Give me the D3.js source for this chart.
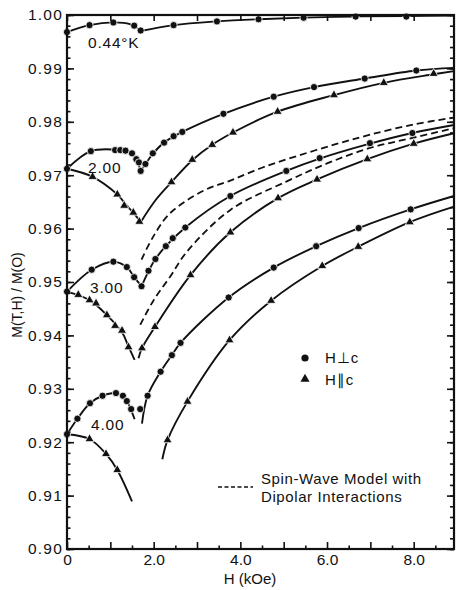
<!DOCTYPE html>
<html><head><meta charset="utf-8">
<script src="https://cdn.jsdelivr.net/npm/d3@7"></script>
<style>
body{margin:0;background:#fff}
svg text{font-family:"Liberation Sans",Arial,sans-serif;fill:#111}
</style>
</head><body><svg id="c" width="456" height="590"></svg>
<script>
// ---------- data (H in kOe, M(T,H)/M(0)) ----------
const tempLabels = ["0.44°K", "2.00", "3.00", "4.00"];
const xTickLabels = [0, 2, 4, 6, 8];
const yTickLabels = [0.90, 0.91, 0.92, 0.93, 0.94, 0.95, 0.96, 0.97, 0.98, 0.99, 1.00];

// measured points, H perpendicular c (circles)
const perp044 = [[0,0.9968],[0.52,0.9981],[1.07,0.9986],[1.55,0.9980],[1.70,0.9971],[2.46,0.9981],[3.46,0.9988],[4.42,0.9992],[5.46,0.9995],[6.66,0.9997],[7.83,0.9997]];
const perp200 = [[0,0.9712],[0.55,0.9745],[1.11,0.9747],[1.23,0.9747],[1.35,0.9746],[1.50,0.9741],[1.60,0.9730],[1.66,0.9724],[1.70,0.9708],[1.81,0.9721],[1.98,0.9741],[2.24,0.9761],[2.46,0.9773],[2.66,0.9781],[3.61,0.9815],[4.77,0.9847],[5.70,0.9865],[6.87,0.9881],[8.06,0.9896]];
const perp300 = [[0,0.9482],[0.57,0.9523],[1.07,0.9538],[1.38,0.9528],[1.55,0.9509],[1.72,0.9492],[1.88,0.9521],[2.04,0.9543],[2.28,0.9567],[2.44,0.9582],[2.73,0.9602],[3.77,0.9661],[5.06,0.9708],[5.83,0.9732],[6.99,0.9760],[7.97,0.9779]];
const perp400 = [[0,0.9215],[0.24,0.9244],[0.53,0.9273],[0.82,0.9287],[1.13,0.9292],[1.29,0.9287],[1.38,0.9277],[1.48,0.9262],[1.69,0.9262],[1.86,0.9287],[2.16,0.9332],[2.42,0.9363],[2.62,0.9386],[3.73,0.9471],[4.77,0.9527],[5.75,0.9567],[6.73,0.9601],[7.93,0.9636]];

// measured points, H parallel c (triangles)
const par200 = [[0.59,0.9697],[1.16,0.9664],[1.32,0.9643],[1.53,0.9630],[1.67,0.9613],[2.41,0.9687],[2.89,0.9729],[3.35,0.9757],[3.83,0.9780],[4.86,0.9819],[6.16,0.9850],[7.31,0.9873],[8.46,0.9890]];
const par300 = [[0.26,0.9476],[0.52,0.9466],[0.67,0.9460],[0.92,0.9438],[1.11,0.9418],[1.27,0.9409],[1.42,0.9378],[1.73,0.9376],[2.03,0.9416],[2.85,0.9513],[3.77,0.9593],[4.87,0.9657],[5.77,0.9692],[6.93,0.9730],[8.00,0.9759]];
const par400 = [[0.52,0.9206],[0.90,0.9178],[1.16,0.9148],[2.32,0.9204],[2.78,0.9276],[3.75,0.9391],[4.71,0.9465],[5.89,0.9530],[6.72,0.9566],[7.91,0.9612]];

// drawn fit curves (branches)
const fit044 = [
  [[0,0.9968],[0.52,0.9981],[1.07,0.99862],[1.45,0.9983],[1.70,0.9970]],
  [[1.70,0.9970],[2.46,0.9981],[3.46,0.9988],[4.42,0.9992],[5.46,0.9995],[6.66,0.99972],[7.83,0.99982],[8.93,0.9999]]
];
const fit200perp = [
  [[0,0.9712],[0.55,0.9745],[1.11,0.9748],[1.35,0.9746],[1.50,0.9740],[1.60,0.9730],[1.70,0.9708]],
  [[1.70,0.9708],[1.81,0.9721],[1.98,0.9740],[2.24,0.9761],[2.66,0.9781],[3.61,0.9815],[4.77,0.9847],[5.70,0.9865],[6.87,0.9881],[8.06,0.9896],[8.93,0.9901]]
];
const fit200par = [
  [[0,0.9712],[0.59,0.9697],[1.16,0.9664],[1.40,0.9641],[1.55,0.9628],[1.70,0.9612]],
  [[1.70,0.9612],[2.05,0.9654],[2.41,0.9687],[2.89,0.9728],[3.35,0.9757],[3.83,0.9780],[4.86,0.9819],[6.16,0.9850],[7.31,0.9873],[8.46,0.9889],[8.93,0.9895]]
];
const fit300perp = [
  [[0,0.9482],[0.57,0.9523],[1.07,0.9538],[1.38,0.9528],[1.55,0.9509],[1.72,0.9492]],
  [[1.72,0.9492],[1.88,0.9520],[2.04,0.9543],[2.28,0.9567],[2.73,0.9602],[3.77,0.9661],[5.06,0.9708],[5.83,0.9731],[6.99,0.9759],[7.97,0.9779],[8.93,0.9794]]
];
const fit300par = [
  [[0,0.9482],[0.52,0.9466],[0.92,0.9438],[1.27,0.9406],[1.42,0.9379],[1.56,0.9354]],
  [[1.65,0.9357],[1.73,0.9376],[2.03,0.9416],[2.85,0.9513],[3.77,0.9593],[4.87,0.9657],[5.77,0.9692],[6.93,0.9730],[8.00,0.9759],[8.93,0.97785]]
];
const fit400perp = [
  [[0,0.9215],[0.24,0.9244],[0.53,0.9273],[0.82,0.9287],[1.13,0.9292],[1.29,0.9287],[1.40,0.9275],[1.48,0.9260],[1.56,0.9243]],
  [[1.73,0.9235],[1.86,0.9287],[2.16,0.9332],[2.42,0.9363],[2.62,0.9386],[3.73,0.9471],[4.77,0.9527],[5.75,0.9567],[6.73,0.9601],[7.93,0.9636],[8.93,0.9661]]
];
const fit400par = [
  [[0,0.9215],[0.52,0.9206],[0.90,0.9178],[1.16,0.9148],[1.50,0.9089]],
  [[2.20,0.9168],[2.32,0.9204],[2.78,0.9276],[3.75,0.9391],[4.71,0.9465],[5.89,0.9530],[6.72,0.9566],[7.91,0.9612],[8.93,0.9641]]
];

// spin-wave model with dipolar interactions (dashed)
const spinWaveA = [[1.72,0.9542],[1.99,0.9585],[2.38,0.9629],[3.15,0.9671],[3.77,0.9690],[4.5,0.9714],[5.31,0.9736],[6.2,0.9758],[7.0,0.9776],[8.0,0.9795],[8.93,0.9808]];
const spinWaveB = [[1.69,0.9420],[2.0,0.9466],[2.38,0.9510],[2.77,0.9557],[3.77,0.9635],[5.06,0.9688],[6.0,0.9722],[6.99,0.9751],[7.93,0.9769],[8.93,0.9788]];

// ---------- chart ----------
const svg = d3.select("#c");
const x = d3.scaleLinear().domain([0, 8.93]).range([67, 454]);
const y = d3.scaleLinear().domain([0.90, 1.00]).range([549, 15]);

const line = d3.line().x(d => x(d[0])).y(d => y(d[1])).curve(d3.curveCatmullRom.alpha(0.5));

// fits
const fits = [fit044, fit200perp, fit200par, fit300perp, fit300par, fit400perp, fit400par];
fits.forEach(br => br.forEach(b => {
  svg.append("path").attr("d", line(b)).attr("fill", "none")
    .attr("stroke", "#111").attr("stroke-width", 1.9);
}));
// spin-wave dashed
[spinWaveA, spinWaveB].forEach(b => {
  svg.append("path").attr("d", line(b)).attr("fill", "none")
    .attr("stroke", "#111").attr("stroke-width", 1.8).attr("stroke-dasharray", "7,4");
});

// markers
const circ = [perp044, perp200, perp300, perp400].flat();
svg.append("g").selectAll("circle").data(circ).join("circle")
  .attr("cx", d => x(d[0])).attr("cy", d => y(d[1])).attr("r", 3.6)
  .attr("fill", "#111").attr("stroke", "#fff").attr("stroke-width", 0.8);
const tri = [par200, par300, par400].flat();
const triSym = d3.symbol().type(d3.symbolTriangle).size(36);
svg.append("g").selectAll("path").data(tri).join("path")
  .attr("d", triSym).attr("transform", d => `translate(${x(d[0])},${y(d[1])})`)
  .attr("fill", "#111").attr("stroke", "#fff").attr("stroke-width", 0.8);

// axes
const fmtY = d3.format(".2f");
const minorY = d3.range(0.90, 1.0001, 0.002).map(v => +v.toFixed(3));
const minorX = d3.range(0.5, 8.93, 1.0);
const majX = d3.range(0, 8.93, 1.0);

function styleAxis(g){ g.select(".domain").remove(); g.selectAll("line").attr("stroke","#111").attr("stroke-width",1.6); }

// left
svg.append("g").attr("transform","translate(67,0)")
  .call(d3.axisLeft(y).tickValues(minorY).tickSize(-3.5).tickFormat(""))
  .call(styleAxis);
svg.append("g").attr("transform","translate(67,0)")
  .call(d3.axisLeft(y).tickValues(yTickLabels).tickSize(-7).tickPadding(4).tickFormat(fmtY))
  .call(styleAxis)
  .call(g => g.selectAll("text").attr("font-size",15.5).attr("letter-spacing","1.2px").attr("fill","#111"));
// right
svg.append("g").attr("transform","translate(454,0)")
  .call(d3.axisRight(y).tickValues(minorY).tickSize(-4).tickFormat(""))
  .call(styleAxis);
svg.append("g").attr("transform","translate(454,0)")
  .call(d3.axisRight(y).tickValues(yTickLabels).tickSize(-7).tickFormat(""))
  .call(styleAxis);
// bottom
svg.append("g").attr("transform","translate(0,549)")
  .call(d3.axisBottom(x).tickValues(minorX).tickSize(-3.5).tickFormat(""))
  .call(styleAxis);
svg.append("g").attr("transform","translate(0,549)")
  .call(d3.axisBottom(x).tickValues(majX).tickSize(-7).tickFormat(""))
  .call(styleAxis);
svg.append("g").attr("transform","translate(0,549)")
  .call(d3.axisBottom(x).tickValues(xTickLabels).tickSize(0).tickPadding(5).tickFormat(d => d === 0 ? "0" : d3.format(".1f")(d)))
  .call(styleAxis)
  .call(g => g.selectAll("text").attr("font-size",15.5).attr("fill","#111"));
// top
svg.append("g").attr("transform","translate(0,15)")
  .call(d3.axisTop(x).tickValues(majX).tickSize(-6).tickFormat(""))
  .call(styleAxis);

// frame
svg.append("rect").attr("x",67).attr("y",15).attr("width",454-67).attr("height",549-15)
  .attr("fill","none").attr("stroke","#111").attr("stroke-width",2.2);

// temperature labels
const tPos = [[88,48],[88,173],[90,293],[91,430]];
tempLabels.forEach((t,i) => svg.append("text").attr("x",tPos[i][0]).attr("y",tPos[i][1])
  .attr("font-size",15.5).attr("letter-spacing","0.8px").text(t));

// axis titles
svg.append("text").attr("x",250).attr("y",584).attr("text-anchor","middle").attr("font-size",15).text("H (kOe)");
svg.append("text").attr("transform","translate(22,295) rotate(-90)").attr("text-anchor","middle")
  .attr("font-size",14).text("M(T,H) / M(O)");

// legend
svg.append("circle").attr("cx",305).attr("cy",358).attr("r",3.6).attr("fill","#111");
svg.append("text").attr("x",325).attr("y",363).attr("font-size",15).attr("letter-spacing","1px").text("H\u22A5c");
svg.append("path").attr("d",triSym()).attr("transform","translate(305,379)").attr("fill","#111");
svg.append("text").attr("x",325).attr("y",385).attr("font-size",15).attr("letter-spacing","1px").text("H\u2225c");
svg.append("line").attr("x1",218).attr("x2",253).attr("y1",487).attr("y2",487)
  .attr("stroke","#111").attr("stroke-width",1.5).attr("stroke-dasharray","4,2.5");
svg.append("text").attr("x",261).attr("y",484).attr("font-size",15).attr("letter-spacing","0.6px").text("Spin-Wave Model  with");
svg.append("text").attr("x",261).attr("y",502).attr("font-size",15).attr("letter-spacing","0.6px").text("Dipolar Interactions");
</script>
</body></html>
